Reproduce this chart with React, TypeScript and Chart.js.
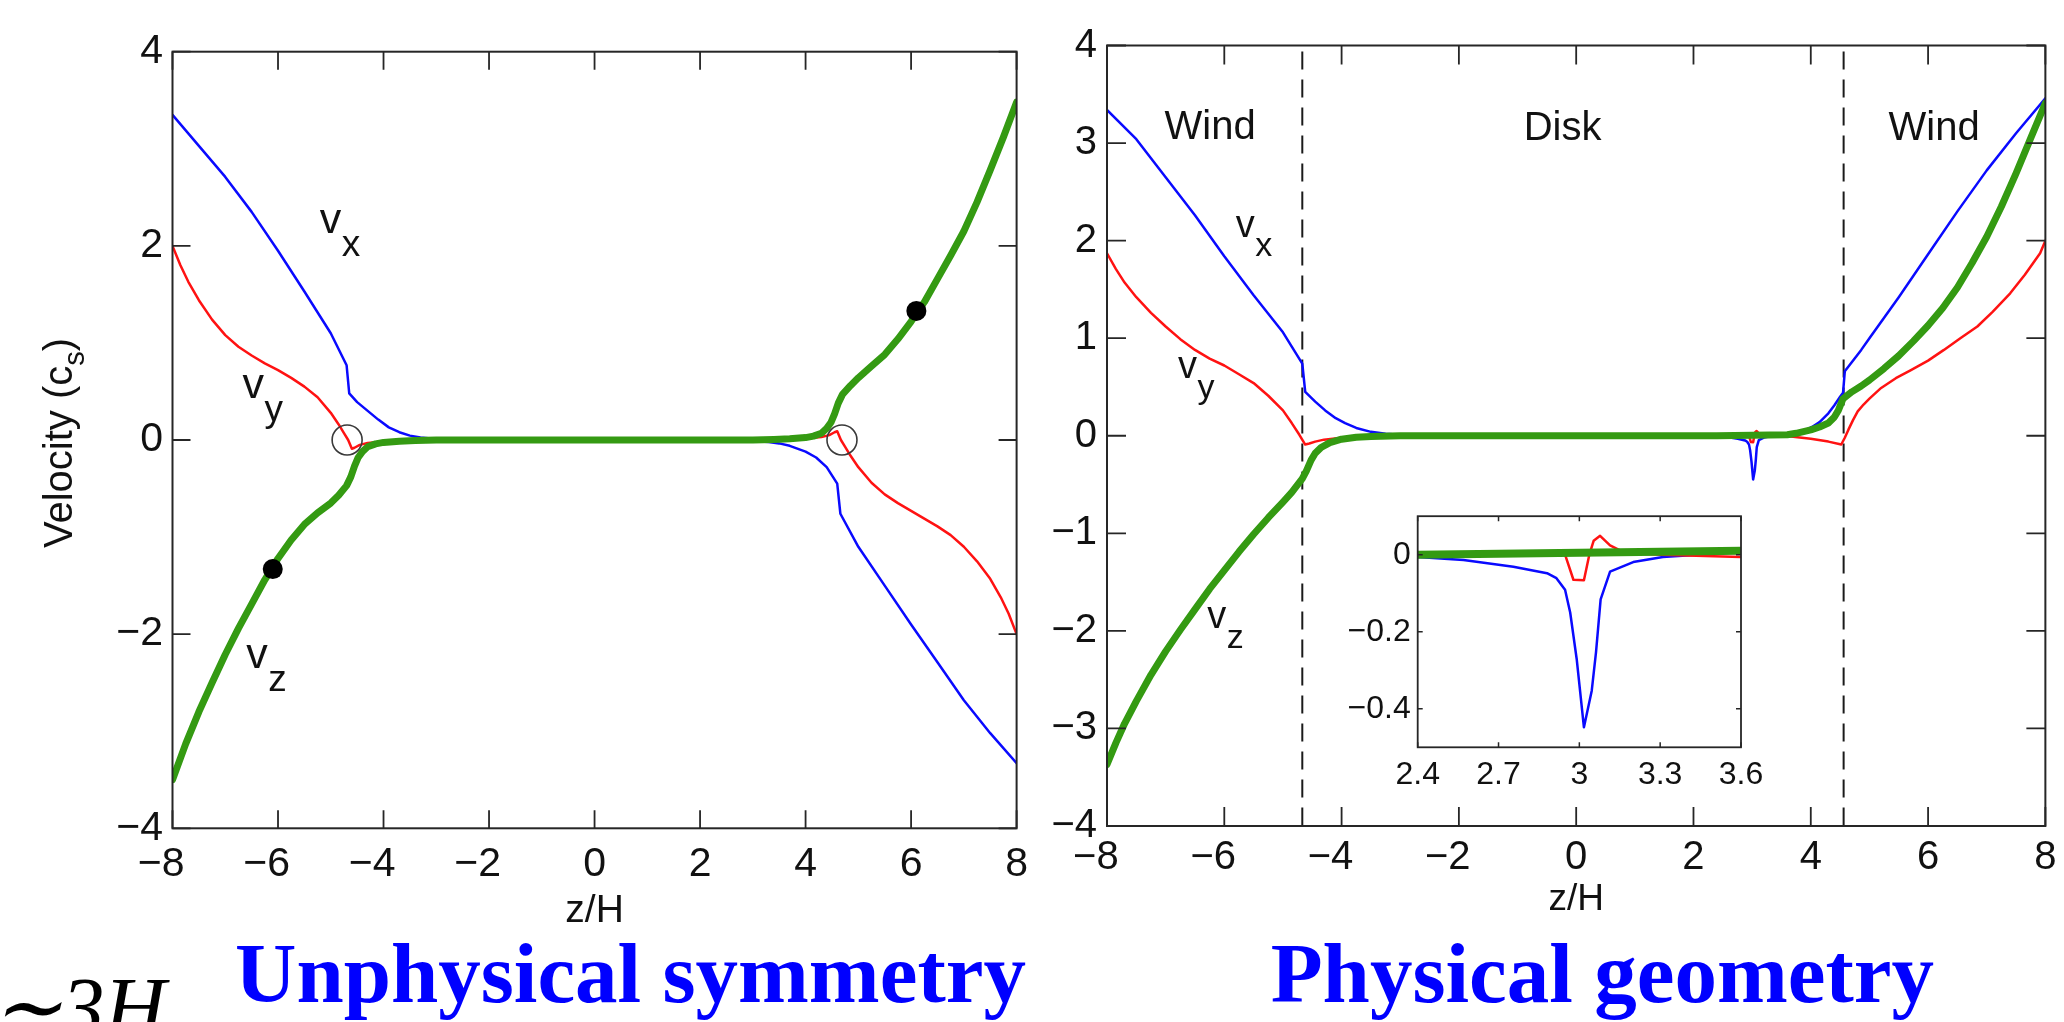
import React, { useEffect, useRef } from 'react';
import { Chart, registerables } from 'chart.js';

Chart.register(...registerables);

// ---------------- data ----------------
// Left panel ("Unphysical symmetry")
const SYM_VX_Z = [-8, -7.5, -7, -6.5, -6, -5.5, -5, -4.7, -4.65, -4.5, -4.3, -4.1, -3.9, -3.7, -3.5, -3.3, -3, -2.5,
  2.5, 3, 3.3, 3.5, 3.7, 4, 4.2, 4.4, 4.6, 4.66, 5, 5.5, 6, 6.5, 7, 7.5, 8];
const SYM_VX = [3.35, 3.03, 2.71, 2.35, 1.95, 1.53, 1.1, 0.77, 0.48, 0.39, 0.3, 0.21, 0.13, 0.08, 0.045, 0.025, 0.01, 0,
  0, -0.01, -0.02, -0.035, -0.06, -0.12, -0.18, -0.28, -0.45, -0.76, -1.1, -1.5, -1.9, -2.29, -2.68, -3.02, -3.33];
const SYM_VY_Z = [-8, -7.85, -7.7, -7.5, -7.25, -7, -6.75, -6.5, -6.25, -6, -5.75, -5.5, -5.25, -5, -4.85, -4.75, -4.67, -4.6, -4.55, -4.45, -4.3, -4, -3.5, -3,
  3, 3.5, 4, 4.3, 4.45, 4.55, 4.6, 4.67, 4.75, 4.85, 5, 5.25, 5.5, 5.75, 6, 6.25, 6.5, 6.75, 7, 7.25, 7.5, 7.7, 7.85, 8];
const SYM_VY = [2, 1.8, 1.63, 1.44, 1.24, 1.08, 0.96, 0.87, 0.79, 0.72, 0.64, 0.55, 0.44, 0.28, 0.16, 0.07, 0, -0.09, -0.08, -0.05, -0.03, -0.015, -0.005, 0,
  0, 0.005, 0.015, 0.03, 0.05, 0.08, 0.09, 0, -0.07, -0.16, -0.28, -0.44, -0.56, -0.65, -0.73, -0.81, -0.89, -0.98, -1.1, -1.25, -1.43, -1.62, -1.79, -2];
const SYM_VZ_Z = [-8, -7.75, -7.5, -7.25, -7, -6.75, -6.5, -6.25, -6, -5.75, -5.5, -5.25, -5, -4.85, -4.7, -4.62, -4.55, -4.48, -4.4, -4.3, -4.15, -4, -3.7, -3.4, -3,
  3, 3.4, 3.7, 4, 4.15, 4.3, 4.4, 4.48, 4.55, 4.62, 4.7, 4.85, 5, 5.25, 5.5, 5.75, 6, 6.25, 6.5, 6.75, 7, 7.25, 7.5, 7.75, 8];
const SYM_VZ = [-3.5, -3.13, -2.8, -2.5, -2.21, -1.94, -1.69, -1.44, -1.22, -1.03, -0.87, -0.75, -0.65, -0.57, -0.47, -0.38, -0.27, -0.18, -0.12, -0.07, -0.04, -0.025, -0.012, -0.005, 0,
  0, 0.005, 0.012, 0.025, 0.04, 0.07, 0.12, 0.18, 0.27, 0.38, 0.47, 0.56, 0.64, 0.76, 0.88, 1.04, 1.22, 1.42, 1.66, 1.9, 2.15, 2.45, 2.78, 3.12, 3.48];
const SYM_SONIC_Z = [-4.69, 4.69];
const SYM_SONIC_V = [0, 0];
const SYM_FAST_Z = [-6.1, 6.1];
const SYM_FAST_V = [-1.33, 1.33];

// Right panel ("Physical geometry")
const PHYS_VX_Z = [-8, -7.5, -7, -6.5, -6, -5.5, -5, -4.67, -4.62, -4.45, -4.28, -4.1, -3.94, -3.75, -3.5, -3.25, -3, -2.5,
  2.4, 2.57, 2.755, 2.88, 2.915, 2.947, 2.966, 2.99, 3.017, 3.046, 3.062, 3.079, 3.114, 3.2, 3.31, 3.44, 3.6,
  3.73, 3.9, 4.02, 4.15, 4.3, 4.4, 4.5, 4.55, 4.58, 4.86, 5, 5.5, 6, 6.5, 7, 7.5, 8];
const PHYS_VX = [3.34, 3.04, 2.65, 2.26, 1.84, 1.44, 1.06, 0.74, 0.45, 0.35, 0.26, 0.18, 0.13, 0.08, 0.04, 0.02, 0.01, 0,
  -0.006, -0.014, -0.031, -0.048, -0.061, -0.091, -0.15, -0.27, -0.448, -0.353, -0.252, -0.116, -0.044, -0.019, -0.006, 0, 0.007,
  0.03, 0.055, 0.09, 0.14, 0.23, 0.31, 0.4, 0.44, 0.66, 0.88, 1, 1.42, 1.86, 2.3, 2.72, 3.1, 3.46];
const PHYS_VY_Z = [-8, -7.85, -7.7, -7.5, -7.25, -7, -6.75, -6.5, -6.25, -6, -5.75, -5.5, -5.25, -5, -4.85, -4.72, -4.62, -4.55, -4.45, -4.3, -4, -3.7, -3.2,
  2.947, 2.978, 3.017, 3.037, 3.053, 3.077, 3.114, 3.151, 3.2, 3.3, 3.6,
  3.7, 4, 4.3, 4.52, 4.58, 4.64, 4.72, 4.8, 4.9, 5, 5.2, 5.45, 5.7, 6, 6.27, 6.55, 6.84, 7.1, 7.4, 7.65, 7.91, 8];
const PHYS_VY = [1.87, 1.71, 1.57, 1.42, 1.26, 1.12, 0.99, 0.88, 0.79, 0.72, 0.63, 0.54, 0.41, 0.26, 0.13, 0.01, -0.09, -0.08, -0.06, -0.04, -0.02, -0.01, 0,
  0, -0.065, -0.066, 0, 0.036, 0.049, 0.024, 0.011, 0.004, 0, -0.006,
  -0.01, -0.03, -0.06, -0.09, -0.02, 0.06, 0.16, 0.25, 0.32, 0.38, 0.49, 0.59, 0.67, 0.77, 0.88, 1, 1.12, 1.27, 1.46, 1.65, 1.87, 2];
const PHYS_VZ_Z = [-8, -7.85, -7.7, -7.5, -7.25, -7, -6.75, -6.5, -6.25, -6, -5.75, -5.5, -5.25, -5, -4.85, -4.67, -4.6, -4.52, -4.45, -4.35, -4.2, -4, -3.75, -3.5, -3,
  2.4, 3.6, 3.75, 4, 4.15, 4.3, 4.4, 4.47, 4.55, 4.7, 4.86, 5, 5.25, 5.5, 5.75, 6, 6.25, 6.5, 6.75, 7, 7.25, 7.5, 7.75, 8];
const PHYS_VZ = [-3.37, -3.15, -2.95, -2.72, -2.45, -2.21, -1.99, -1.78, -1.57, -1.38, -1.19, -1.01, -0.84, -0.68, -0.58, -0.44, -0.36, -0.25, -0.18, -0.12, -0.07, -0.035, -0.015, -0.007, 0,
  0, 0.01, 0.025, 0.06, 0.09, 0.13, 0.19, 0.26, 0.38, 0.45, 0.51, 0.57, 0.69, 0.82, 0.97, 1.13, 1.31, 1.52, 1.77, 2.04, 2.35, 2.69, 3.05, 3.41];
const WIND_BASE_Z = [-4.67, 4.56];

// Ticks
const MAIN_X_TICKS = [-8, -6, -4, -2, 0, 2, 4, 6, 8];
const SYM_Y_TICKS = [-4, -2, 0, 2, 4];
const PHYS_Y_TICKS = [-4, -3, -2, -1, 0, 1, 2, 3, 4];
const INSET_X_TICKS = [2.4, 2.7, 3, 3.3, 3.6];
const INSET_Y_TICKS = [-0.4, -0.2, 0];

// Text labels (anchored in data coordinates)
const SYM_NOTES = [
  { text: 'v', sub: 'x', x: -5.21, y: 2.13 },
  { text: 'v', sub: 'y', x: -6.675, y: 0.43 },
  { text: 'v', sub: 'z', x: -6.6, y: -2.35 },
];
const PHYS_NOTES = [
  { text: 'Wind', x: -6.242, y: 3.042, center: true },
  { text: 'Disk', x: -0.232, y: 3.032, center: true },
  { text: 'Wind', x: 6.104, y: 3.032, center: true },
  { text: 'v', sub: 'x', x: -5.804, y: 2.041 },
  { text: 'v', sub: 'y', x: -6.791, y: 0.589 },
  { text: 'v', sub: 'z', x: -6.29, y: -1.973 },
];

// ---------------- styling ----------------
const SANS = "'Liberation Sans', Arial, Helvetica, sans-serif";
const SERIF = "'Liberation Serif', 'Times New Roman', Times, serif";
const INK = '#111111';
const AXIS = '#262626';
const BLUE = '#0a0aff';
const RED = '#ff1212';
const GREEN = '#349a12';

const pts = (xs: number[], ys: number[]) => xs.map((x, i) => ({ x, y: ys[i] }));
const minusLabel = (v: number) => (v < 0 ? '\u2212' + String(Math.abs(v)) : String(v));
const xMainLabel = (v: number) => (v < 0 ? minusLabel(v) + '  ' : String(v));

function lineDs(xs: number[], ys: number[], color: string, width: number, order: number, clip?: number) {
  const ds: any = {
    data: pts(xs, ys),
    borderColor: color,
    backgroundColor: color,
    borderWidth: width,
    pointRadius: 0,
    pointHoverRadius: 0,
    fill: false,
    tension: 0,
    borderCapStyle: 'round',
    borderJoinStyle: 'round',
    order,
  };
  if (clip !== undefined) ds.clip = clip;
  return ds;
}

function framePlugin(p: any) {
  return {
    id: 'frame',
    beforeDraw(chart: any) {
      if (!p.fill) return;
      const { ctx, chartArea: a } = chart;
      ctx.save();
      ctx.fillStyle = '#ffffff';
      ctx.fillRect(a.left, a.top, a.right - a.left, a.bottom - a.top);
      ctx.restore();
    },
    afterDraw(chart: any) {
      const { ctx, chartArea: a, scales } = chart;
      const xs = scales.x;
      const ys = scales.y;
      ctx.save();
      ctx.strokeStyle = AXIS;
      ctx.lineWidth = p.tickW;
      ctx.beginPath();
      for (const t of xs.ticks) {
        const px = xs.getPixelForValue(t.value);
        ctx.moveTo(px, a.bottom);
        ctx.lineTo(px, a.bottom - p.tickLen);
        ctx.moveTo(px, a.top);
        ctx.lineTo(px, a.top + p.tickLen);
      }
      for (const t of ys.ticks) {
        const py = ys.getPixelForValue(t.value);
        ctx.moveTo(a.left, py);
        ctx.lineTo(a.left + p.tickLen, py);
        ctx.moveTo(a.right, py);
        ctx.lineTo(a.right - p.tickLen, py);
      }
      ctx.stroke();
      ctx.lineWidth = p.boxW;
      ctx.strokeRect(a.left, a.top, a.right - a.left, a.bottom - a.top);

      // in-plot labels
      ctx.fillStyle = INK;
      ctx.textBaseline = 'alphabetic';
      for (const n of p.notes || []) {
        const px = xs.getPixelForValue(n.x);
        const py = ys.getPixelForValue(n.y);
        if (n.sub) {
          ctx.font = `${p.mainSize}px ${SANS}`;
          ctx.textAlign = 'left';
          ctx.fillText(n.text, px, py);
          const w = ctx.measureText(n.text).width;
          ctx.font = `${p.subSize}px ${SANS}`;
          ctx.fillText(n.sub, px + w + 0.5, py + p.subDy);
        } else {
          ctx.font = `${p.wordSize}px ${SANS}`;
          ctx.textAlign = n.center ? 'center' : 'left';
          ctx.fillText(n.text, px, py);
        }
      }

      // rotated y-axis title with subscript
      if (p.yTitle) {
        const main1 = 'Velocity (c';
        const sub = 's';
        const main2 = ')';
        ctx.font = `40px ${SANS}`;
        const w1 = ctx.measureText(main1).width;
        const w3 = ctx.measureText(main2).width;
        ctx.font = `29px ${SANS}`;
        const w2 = ctx.measureText(sub).width;
        const total = w1 + w2 + w3;
        ctx.translate(a.left - 100.5, (a.top + a.bottom) / 2 + 3);
        ctx.rotate(-Math.PI / 2);
        ctx.textAlign = 'left';
        const start = -total / 2;
        ctx.font = `40px ${SANS}`;
        ctx.fillText(main1, start, 0);
        ctx.font = `29px ${SANS}`;
        ctx.fillText(sub, start + w1, 12);
        ctx.font = `40px ${SANS}`;
        ctx.fillText(main2, start + w1 + w2, 0);
      }
      ctx.restore();
    },
  };
}

function scaleX(min: number, max: number, ticks: number[], height: number, fontSize: number, padding: number, fmt: (v: number) => string, title?: any) {
  return {
    type: 'linear',
    min,
    max,
    afterBuildTicks: (s: any) => { s.ticks = ticks.map((v) => ({ value: v })); },
    afterFit: (s: any) => { s.height = height; },
    grid: { display: false, drawTicks: false },
    border: { display: false },
    ticks: { font: { family: SANS, size: fontSize, lineHeight: 1.2 }, color: INK, padding, maxRotation: 0, minRotation: 0, autoSkip: false, callback: (v: any) => fmt(Number(v)) },
    title: title || { display: false },
  };
}

function scaleY(min: number, max: number, ticks: number[], width: number, fontSize: number, padding: number, fmt: (v: number) => string) {
  return {
    type: 'linear',
    min,
    max,
    afterBuildTicks: (s: any) => { s.ticks = ticks.map((v) => ({ value: v })); },
    afterFit: (s: any) => { s.width = width; },
    grid: { display: false, drawTicks: false },
    border: { display: false },
    ticks: { font: { family: SANS, size: fontSize, lineHeight: 1.2 }, color: INK, padding, autoSkip: false, callback: (v: any) => fmt(Number(v)) },
  };
}

const baseOptions = (padding: any) => ({
  responsive: false,
  maintainAspectRatio: false,
  animation: false,
  devicePixelRatio: 1,
  events: [],
  layout: { padding },
  plugins: { legend: { display: false }, tooltip: { enabled: false } },
});

function buildSym() {
  return {
    type: 'line',
    data: {
      datasets: [
        { data: pts(SYM_SONIC_Z, SYM_SONIC_V), showLine: false, pointRadius: 15, pointBorderWidth: 1.6, pointBorderColor: '#3a3a3a', pointBackgroundColor: 'rgba(0,0,0,0)', order: 0 },
        { data: pts(SYM_FAST_Z, SYM_FAST_V), showLine: false, pointRadius: 10, pointBorderWidth: 0, pointBackgroundColor: '#000000', order: 0 },
        lineDs(SYM_VZ_Z, SYM_VZ, GREEN, 7, 1),
        lineDs(SYM_VY_Z, SYM_VY, RED, 2.5, 2),
        lineDs(SYM_VX_Z, SYM_VX, BLUE, 2.5, 3),
      ],
    },
    options: {
      ...baseOptions({ left: 0, right: 22, top: 51.7, bottom: 0 }),
      scales: {
        x: scaleX(-8, 8, MAIN_X_TICKS, 131.7, 41, 12, xMainLabel, {
          display: true, text: 'z/H', color: INK,
          font: { family: SANS, size: 39, lineHeight: 1.2 }, padding: { top: 0, bottom: 25.6 },
        }),
        y: scaleY(-4, 4, SYM_Y_TICKS, 172.5, 41, 9.5, minusLabel),
      },
    },
    plugins: [framePlugin({ tickLen: 18, tickW: 1.8, boxW: 2, notes: SYM_NOTES, mainSize: 43, subSize: 37, subDy: 23, yTitle: true })],
  };
}

function buildPhys() {
  return {
    type: 'line',
    data: {
      datasets: [
        lineDs(PHYS_VZ_Z, PHYS_VZ, GREEN, 7, 1),
        lineDs(PHYS_VY_Z, PHYS_VY, RED, 2.5, 2),
        lineDs(PHYS_VX_Z, PHYS_VX, BLUE, 2.5, 3),
        { data: [{ x: WIND_BASE_Z[0], y: 4 }, { x: WIND_BASE_Z[0], y: -4 }], borderColor: '#1a1a1a', borderWidth: 2, borderDash: [18, 10], borderDashOffset: -6, pointRadius: 0, order: 4 },
        { data: [{ x: WIND_BASE_Z[1], y: 4 }, { x: WIND_BASE_Z[1], y: -4 }], borderColor: '#1a1a1a', borderWidth: 2, borderDash: [18, 10], borderDashOffset: -6, pointRadius: 0, order: 4 },
      ],
    },
    options: {
      ...baseOptions({ left: 0, right: 12, top: 45.5, bottom: 0 }),
      scales: {
        x: scaleX(-8, 8, MAIN_X_TICKS, 134, 40, 7.5, xMainLabel, {
          display: true, text: 'z/H', color: INK,
          font: { family: SANS, size: 37, lineHeight: 1.2 }, padding: { top: 0, bottom: 38.3 },
        }),
        y: scaleY(-4, 4, PHYS_Y_TICKS, 67, 40, 10, minusLabel),
      },
    },
    plugins: [framePlugin({ tickLen: 19, tickW: 1.8, boxW: 2, notes: PHYS_NOTES, mainSize: 38, subSize: 34, subDy: 19.5, wordSize: 40 })],
  };
}

function buildInset() {
  return {
    type: 'line',
    data: {
      datasets: [
        lineDs(PHYS_VZ_Z, PHYS_VZ, GREEN, 8, 1, 0),
        lineDs(PHYS_VY_Z, PHYS_VY, RED, 2.5, 2, 0),
        lineDs(PHYS_VX_Z, PHYS_VX, BLUE, 2.5, 3, 0),
      ],
    },
    options: {
      ...baseOptions({ left: 0, right: 39, top: 22.7, bottom: 0 }),
      scales: {
        x: scaleX(2.4, 3.6, INSET_X_TICKS, 62.7, 32, 8.5, (v) => String(Number(v.toFixed(1)))),
        y: scaleY(-0.5, 0.1, INSET_Y_TICKS, 77.7, 32, 7, (v) => minusLabel(Number(v.toFixed(1)))),
      },
    },
    plugins: [framePlugin({ tickLen: 5, tickW: 1.5, boxW: 1.8, fill: true })],
  };
}

function ChartCanvas(props: { left: number; top: number; width: number; height: number; build: () => any }) {
  const ref = useRef<HTMLCanvasElement | null>(null);
  useEffect(() => {
    if (!ref.current) return;
    const chart = new Chart(ref.current, props.build());
    return () => chart.destroy();
  }, []);
  return (
    <canvas
      ref={ref}
      width={props.width}
      height={props.height}
      style={{ position: 'absolute', left: props.left, top: props.top, width: props.width, height: props.height }}
    />
  );
}

const titleStyle: any = {
  position: 'absolute',
  margin: 0,
  whiteSpace: 'nowrap',
  fontFamily: SERIF,
  fontWeight: 'bold',
  fontSize: '85px',
  lineHeight: '85px',
  color: '#0000ff',
};

export default function App() {
  return (
    <div style={{ position: 'absolute', left: 0, top: 0, width: 2064, height: 1022, overflow: 'hidden', background: '#ffffff' }}>
      <ChartCanvas left={0} top={0} width={1040} height={960} build={buildSym} />
      <ChartCanvas left={1040} top={0} width={1024} height={960} build={buildPhys} />
      <ChartCanvas left={1340} top={490} width={440} height={320} build={buildInset} />
      <div style={{ ...titleStyle, left: 235, top: 930.5 }}>Unphysical symmetry</div>
      <div style={{ ...titleStyle, left: 1270.7, top: 930.5 }}>Physical geometry</div>
      <div style={{ ...titleStyle, left: -9, top: 964.8, fontWeight: 'normal', fontStyle: 'italic', color: '#000000' }}>∼3H</div>
    </div>
  );
}
